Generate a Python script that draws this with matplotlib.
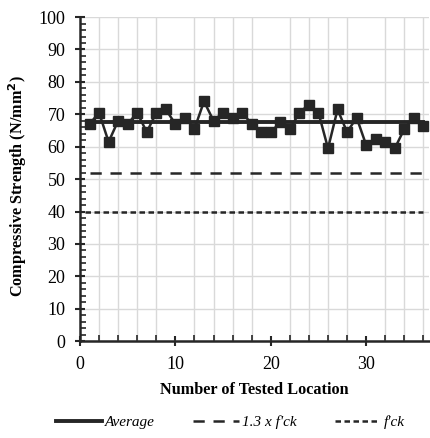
import numpy as np
import matplotlib.pyplot as plt
from matplotlib.ticker import MultipleLocator

plt.rcParams['font.family'] = ['Liberation Serif', 'DejaVu Serif']

# tested locations and measured strength
location = np.arange(1, 37)
strength = [67, 70.5, 61.5, 68, 67, 70.5, 64.5, 70.5, 71.5, 67,
            69, 65.5, 74, 68, 70.5, 69, 70.5, 67, 64.5, 64.5,
            67.5, 65.5, 70.5, 73, 70.5, 59.5, 71.5, 64.5, 69, 60.5,
            62.5, 61.5, 59.5, 65.5, 69, 66.5]
average = 67.5
fck = 40
fck13 = 1.3 * fck

col = '#262626'
fig = plt.figure(figsize=(4.3, 4.38), dpi=100)
ax = fig.add_axes([0.186, 0.221, 0.812, 0.740])

ax.plot([1, 36], [average, average], color=col, lw=2.8, label='Average')
ax.plot([1, 36], [fck13, fck13], color=col, lw=1.8, dashes=(4.5, 3.5), label='1.3 x f\'ck')
ax.plot([0.5, 36], [fck, fck], color=col, lw=1.8, dashes=(2.2, 1.4), label='f\'ck')
ax.plot(location, strength, color=col, lw=1.8, marker='s', ms=7.5)

ax.set_xlim(0, 36.6)
ax.set_ylim(0, 100)
ax.xaxis.set_major_locator(MultipleLocator(10))
ax.xaxis.set_minor_locator(MultipleLocator(2))
ax.yaxis.set_major_locator(MultipleLocator(10))
ax.yaxis.set_minor_locator(MultipleLocator(2))
ax.grid(True, which='major', axis='y', color='#d9d9d9', lw=1)
ax.grid(True, which='minor', axis='x', color='#d9d9d9', lw=1)
ax.set_axisbelow(True)
for s in ['top', 'right']:
    ax.spines[s].set_visible(False)
for s in ['left', 'bottom']:
    ax.spines[s].set_linewidth(1.8)
    ax.spines[s].set_color(col)
ax.tick_params(which='major', direction='inout', length=7, width=1.5, labelsize=13, color=col, pad=7)
ax.tick_params(which='minor', direction='in', length=4, width=1.2, color=col)

ax.set_xlabel('Number of Tested Location', fontsize=11.7, fontweight='bold')
ax.xaxis.set_label_coords(0.5, -0.125)
ax.set_ylabel('Compressive Strength (N/mm$^\\mathbf{2}$)', fontsize=11.7, fontweight='bold')
ax.yaxis.set_label_coords(-0.145, 0.48)

ax.legend(loc='center', bbox_to_anchor=(0.43, -0.25), ncol=3, frameon=False,
          prop={'style': 'italic', 'size': 11}, handlelength=3, handletextpad=0.2,
          columnspacing=2.5)

fig.savefig('out.png', dpi=100)
